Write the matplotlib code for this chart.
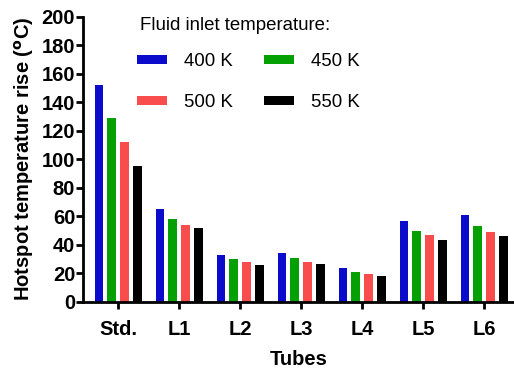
import matplotlib
matplotlib.use('Agg')
import matplotlib.pyplot as plt
import numpy as np
from matplotlib.patches import Patch

plt.rcParams['font.family'] = ['Liberation Sans', 'DejaVu Sans']

tubes = ['Std.', 'L1', 'L2', 'L3', 'L4', 'L5', 'L6']
series_labels = ['400 K', '450 K', '500 K', '550 K']
rise_400 = [152, 65, 33, 34, 24, 57, 61]
rise_450 = [129, 58, 30, 31, 21, 50, 53]
rise_500 = [112, 54, 28, 28, 19.5, 47, 49]
rise_550 = [95.5, 52, 26, 26.5, 18, 43.5, 46]
colors = ['#0b0bcc', '#04a004', '#f94d4d', '#000000']

fig = plt.figure(figsize=(5.14, 3.74), dpi=100)
ax = fig.add_axes([0.162, 0.193, 0.838, 0.762])

x = np.arange(len(tubes))
pitch = 0.21
width = 0.14
all_series = [rise_400, rise_450, rise_500, rise_550]
for i, (vals, c) in enumerate(zip(all_series, colors)):
    ax.bar(x + (i - 1.5) * pitch, vals, width=width, color=c, linewidth=0)

ax.set_xlim(-0.57, 6.49)
ax.set_ylim(0, 200)
ax.set_yticks(range(0, 201, 20))
ax.set_xticks(x)
ax.set_xticklabels(tubes)

for side in ['top', 'right']:
    ax.spines[side].set_visible(False)
for side in ['left', 'bottom']:
    ax.spines[side].set_linewidth(2)
ax.tick_params(width=2, length=5, labelsize=14.5)
ax.tick_params(axis='y', pad=0.8)
ax.tick_params(axis='x', pad=8)
for lbl in ax.get_xticklabels() + ax.get_yticklabels():
    lbl.set_fontweight('bold')

ax.set_ylabel(r'Hotspot temperature rise ($^{\mathbf{o}}$C)', fontsize=14.5,
              fontweight='bold', labelpad=4)
ax.set_xlabel('Tubes', fontsize=14.5, fontweight='bold', labelpad=8)

# legend reads row-wise: 400/450 on top, 500/550 below
order = [0, 2, 1, 3]
handles = [Patch(facecolor=colors[i], edgecolor='none') for i in order]
labels = [series_labels[i] for i in order]
leg = ax.legend(handles, labels, ncol=2, frameon=False, fontsize=13.4,
                loc='upper left', bbox_to_anchor=(0.086, 0.931),
                handlelength=1.6, handleheight=0.4, handletextpad=0.9,
                labelspacing=1.3, columnspacing=1.7)
fig.text(140 / 514, 1 - 25 / 374, 'Fluid inlet temperature:', fontsize=13.4,
         ha='left', va='center')

fig.savefig('out.png', dpi=100)
